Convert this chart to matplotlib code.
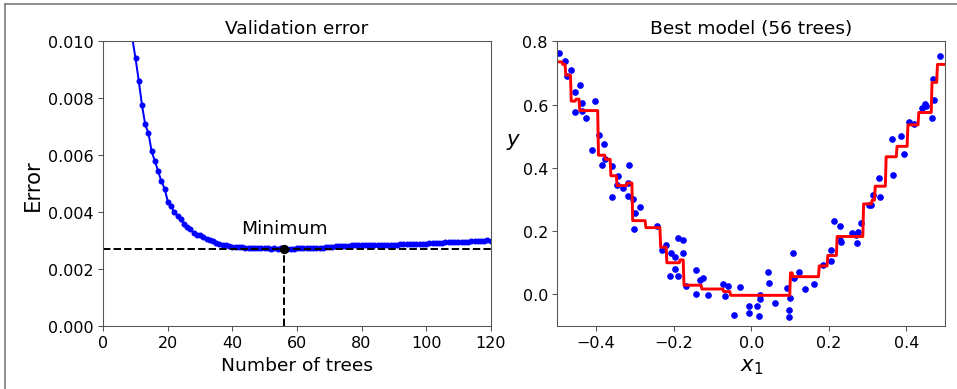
import numpy as np
import matplotlib
matplotlib.use('Agg')
import matplotlib.pyplot as plt
from matplotlib.lines import Line2D

# validation error for 1..120 trees (first ones are above the top)
errors = [
    0.0562, 0.0464, 0.0383, 0.0317, 0.0262, 0.0214, 0.0168, 0.0131, 0.0101, 0.00940,
    0.00861, 0.00775, 0.00708, 0.00677, 0.00613, 0.00579, 0.00544, 0.00508, 0.00483, 0.00437,
    0.00421, 0.00399, 0.00387, 0.00375, 0.00357, 0.00348, 0.00340, 0.00327, 0.00321, 0.00318,
    0.00311, 0.00305, 0.00301, 0.00297, 0.00292, 0.00288, 0.00286, 0.00283, 0.00281, 0.00279,
    0.00278, 0.00277, 0.00276, 0.00275, 0.00274, 0.00274, 0.00273, 0.00273, 0.00273, 0.00273,
    0.00273, 0.00272, 0.00273, 0.00272, 0.00273, 0.00271, 0.00272, 0.00272, 0.00272, 0.00273,
    0.00273, 0.00273, 0.00274, 0.00274, 0.00274, 0.00275, 0.00275, 0.00275, 0.00276, 0.00276,
    0.00278, 0.00281, 0.00281, 0.00282, 0.00282, 0.00282, 0.00283, 0.00283, 0.00283, 0.00283,
    0.00284, 0.00284, 0.00284, 0.00284, 0.00285, 0.00285, 0.00285, 0.00285, 0.00286, 0.00286,
    0.00286, 0.00287, 0.00287, 0.00287, 0.00288, 0.00288, 0.00288, 0.00289, 0.00289, 0.00289,
    0.00290, 0.00290, 0.00290, 0.00291, 0.00291, 0.00295, 0.00295, 0.00295, 0.00296, 0.00296,
    0.00296, 0.00296, 0.00296, 0.00297, 0.00297, 0.00297, 0.00298, 0.00298, 0.00301, 0.00300,
]

# training points
X = [-0.4948, -0.4794, -0.475, -0.4655, -0.4536, -0.4423, -0.4544, -0.4363, -0.437, -0.426,
     -0.4028, -0.4114, -0.3933, -0.3804, -0.384, -0.3778, -0.3598, -0.3428, -0.3598, -0.3454,
     -0.3299, -0.316, -0.3186, -0.3186, -0.3041, -0.3005, -0.3015, -0.2876,
     -0.2423, -0.2198, -0.2302, -0.2077, -0.189, -0.1753, -0.1959, -0.1753, -0.1959, -0.2088,
     -0.1897, -0.169, -0.1418, -0.1433, -0.1322, -0.1253, -0.1116, -0.073, -0.060, -0.0686,
     -0.0284, -0.0438, -0.0052, -0.006, 0.0139, 0.0198, 0.0224,
     0.0232, 0.043, 0.0464, 0.061, 0.092, 0.1005, 0.097, 0.098, 0.1067, 0.110,
     0.123, 0.1376, 0.1616, 0.184, 0.2062, 0.2054, 0.2124, 0.2286, 0.2286, 0.232,
     0.2603, 0.27, 0.2758, 0.2716, 0.2827, 0.3026, 0.3077, 0.3144, 0.3317, 0.3284,
     0.3645, 0.3618, 0.3858, 0.3943, 0.4072, 0.4193, 0.4392, 0.4485, 0.4495, 0.465,
     0.4701, 0.4683, 0.4856]
y = [0.762, 0.738, 0.690, 0.709, 0.640, 0.661, 0.577, 0.606, 0.581, 0.557,
     0.611, 0.456, 0.504, 0.476, 0.409, 0.428, 0.405, 0.374, 0.308, 0.346,
     0.336, 0.409, 0.352, 0.311, 0.302, 0.256, 0.208, 0.275,
     0.217, 0.156, 0.141, 0.131, 0.177, 0.171, 0.118, 0.132, 0.081, 0.058,
     0.059, 0.025, 0.076, 0.001, 0.045, 0.053, -0.001, 0.034, 0.026, -0.004,
     0.024, -0.064, -0.038, -0.058, -0.038, -0.068, -0.015,
     -0.001, 0.072, 0.036, -0.026, 0.019, -0.011, -0.049, -0.071, 0.131, 0.051,
     0.070, 0.017, 0.033, 0.094, 0.105, 0.140, 0.231, 0.216, 0.173, 0.166,
     0.195, 0.189, 0.198, 0.161, 0.225, 0.283, 0.283, 0.315, 0.307, 0.367,
     0.377, 0.491, 0.500, 0.444, 0.544, 0.539, 0.588, 0.602, 0.595, 0.557,
     0.614, 0.681, 0.753]

# best model (56 trees): split points and leaf values of the step curve
splits = [-0.487, -0.479, -0.4655, -0.452, -0.442, -0.394, -0.377, -0.362, -0.347, -0.320,
          -0.306, -0.272, -0.234, -0.219, -0.184, -0.174, -0.128, -0.072, -0.054, 0.1005,
          0.106, 0.174, 0.196, 0.220, 0.2887, 0.310, 0.319, 0.3464, 0.375, 0.403,
          0.430, 0.465, 0.478]
levels = [0.735, 0.727, 0.693, 0.611, 0.617, 0.581, 0.440, 0.427, 0.375, 0.344,
          0.352, 0.233, 0.211, 0.149, 0.100, 0.109, 0.029, 0.017, 0.009, -0.003,
          0.068, 0.056, 0.090, 0.123, 0.183, 0.286, 0.298, 0.342, 0.435, 0.468,
          0.536, 0.575, 0.670, 0.727]

min_error = np.min(errors)
bst_n_estimators = int(np.argmin(errors)) + 1

plt.rcParams['axes.edgecolor'] = '#555555'
plt.rcParams['xtick.color'] = '#555555'
plt.rcParams['ytick.color'] = '#555555'
plt.rcParams['xtick.labelcolor'] = 'black'
plt.rcParams['ytick.labelcolor'] = 'black'

fig = plt.figure(figsize=(10, 390 / 95.7), dpi=95.7)

ax1 = fig.add_axes([0.1079, 0.1615, 0.4048, 0.730])
ax1.plot(np.arange(1, len(errors) + 1), errors, "b.-", markersize=7)
ax1.plot([bst_n_estimators, bst_n_estimators], [0, min_error], "k--")
ax1.plot([0, 120], [min_error, min_error], "k--")
ax1.plot(bst_n_estimators, min_error, "ko")
ax1.text(bst_n_estimators, min_error * 1.2, "Minimum", ha="center", fontsize=14)
ax1.axis([0, 120, 0, 0.01])
ax1.set_xlabel("Number of trees", fontsize=14)
ax1.set_ylabel("Error", fontsize=16)
ax1.set_title("Validation error", fontsize=14)
ax1.tick_params(labelsize=12)

ax2 = fig.add_axes([0.5823, 0.1615, 0.4054, 0.730])
x1 = np.linspace(-0.5, 0.5, 500)
y_pred = np.array(levels)[np.searchsorted(splits, x1)]
ax2.plot(X, y, "b.", markersize=8)
ax2.plot(x1, y_pred, "r-", linewidth=2.2)
ax2.axis([-0.5, 0.5, -0.1, 0.8])
ax2.set_title("Best model (%d trees)" % bst_n_estimators, fontsize=14)
ax2.set_ylabel("$y$", fontsize=16, rotation=0, ha='center', va='center')
ax2.yaxis.set_label_coords(-0.112, 0.65)
ax2.set_xlabel("$x_1$", fontsize=16)
ax2.tick_params(labelsize=12)

# thin frame on top and left edge of the picture
fig.add_artist(Line2D([5 / 957, 1], [1 - 5 / 390, 1 - 5 / 390], color='#777777', lw=1.2))
fig.add_artist(Line2D([5 / 957, 5 / 957], [0, 1 - 5 / 390], color='#777777', lw=1.2))

fig.savefig('out.png', dpi=95.7)
